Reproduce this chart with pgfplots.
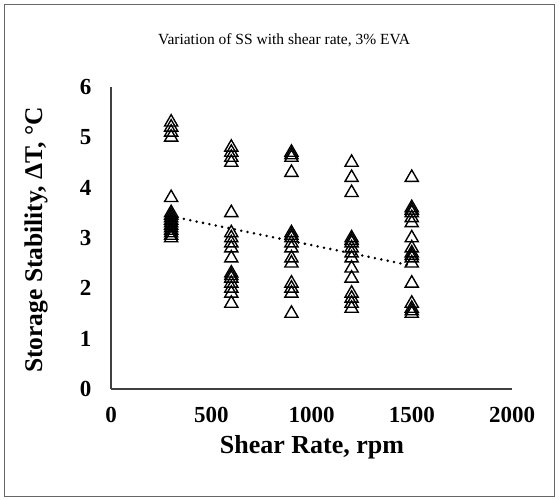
\documentclass[border=0pt]{standalone}
\usepackage{pgfplots}
\pgfplotsset{compat=1.18}
\usepackage{fontspec}
\setmainfont{Liberation Serif}
\begin{document}
\begin{tikzpicture}[x=1pt,y=1pt]
\path[use as bounding box] (0,0) rectangle (560,500);
\draw[black!60, line width=0.8pt] (4,4) rectangle (554,496);
\begin{axis}[
  at={(111pt,111pt)}, anchor=south west,
  scale only axis, width=401pt, height=302pt,
  xmin=0, xmax=2000, ymin=0, ymax=6,
  axis x line=bottom, axis y line=left,
  axis line style={-, line width=1.2pt, black!75},
  xtick={0,500,1000,1500,2000}, ytick={0,1,2,3,4,5,6},
  major tick length=0pt,
  tick label style={font=\fontsize{23}{26}\selectfont\bfseries},
  /pgf/number format/assume math mode=true,
  /pgf/number format/1000 sep={},
  xticklabel style={yshift=-15pt},
  yticklabel style={xshift=-16pt},
  clip=false,
]
\addplot[only marks, mark=triangle, mark size=7.6pt, mark options={line width=1.4pt, black, fill=white, fill opacity=0}] coordinates {
(300,5.3) (300,5.2) (300,5.1) (300,5.0) (300,3.8) (300,3.5) (300,3.45) (300,3.4) (300,3.35) (300,3.3) (300,3.25) (300,3.2) (300,3.15) (300,3.1) (300,3.05) (300,3.0)
(600,4.8) (600,4.7) (600,4.6) (600,4.5) (600,3.5) (600,3.1) (600,3.0) (600,2.9) (600,2.8) (600,2.6) (600,2.3) (600,2.25) (600,2.2) (600,2.1) (600,2.0) (600,1.9) (600,1.7)
(900,4.7) (900,4.65) (900,4.6) (900,4.3) (900,3.1) (900,3.05) (900,3.0) (900,2.9) (900,2.8) (900,2.6) (900,2.5) (900,2.1) (900,2.0) (900,1.9) (900,1.5)
(1200,4.5) (1200,4.2) (1200,3.9) (1200,3.0) (1200,2.95) (1200,2.9) (1200,2.8) (1200,2.7) (1200,2.6) (1200,2.4) (1200,2.2) (1200,1.9) (1200,1.8) (1200,1.7) (1200,1.6)
(1500,4.2) (1500,3.6) (1500,3.55) (1500,3.5) (1500,3.4) (1500,3.3) (1500,3.0) (1500,2.8) (1500,2.7) (1500,2.65) (1500,2.6) (1500,2.5) (1500,2.1) (1500,1.7) (1500,1.6) (1500,1.55) (1500,1.5)
};
\addplot[black, line width=2.8pt, line cap=round, dash pattern=on 0pt off 6.5pt] coordinates {(300,3.43) (1500,2.45)};
\end{axis}
\node[font=\fontsize{15.5}{18}\selectfont] at (284,460) {Variation of SS with shear rate, 3\% EVA};
\node[font=\fontsize{25.5}{30}\selectfont\bfseries, rotate=90] at (36,260) {Storage Stability, ΔT, °C};
\node[font=\fontsize{26}{30}\selectfont\bfseries] at (312,53) {Shear Rate, rpm};
\end{tikzpicture}
\end{document}
